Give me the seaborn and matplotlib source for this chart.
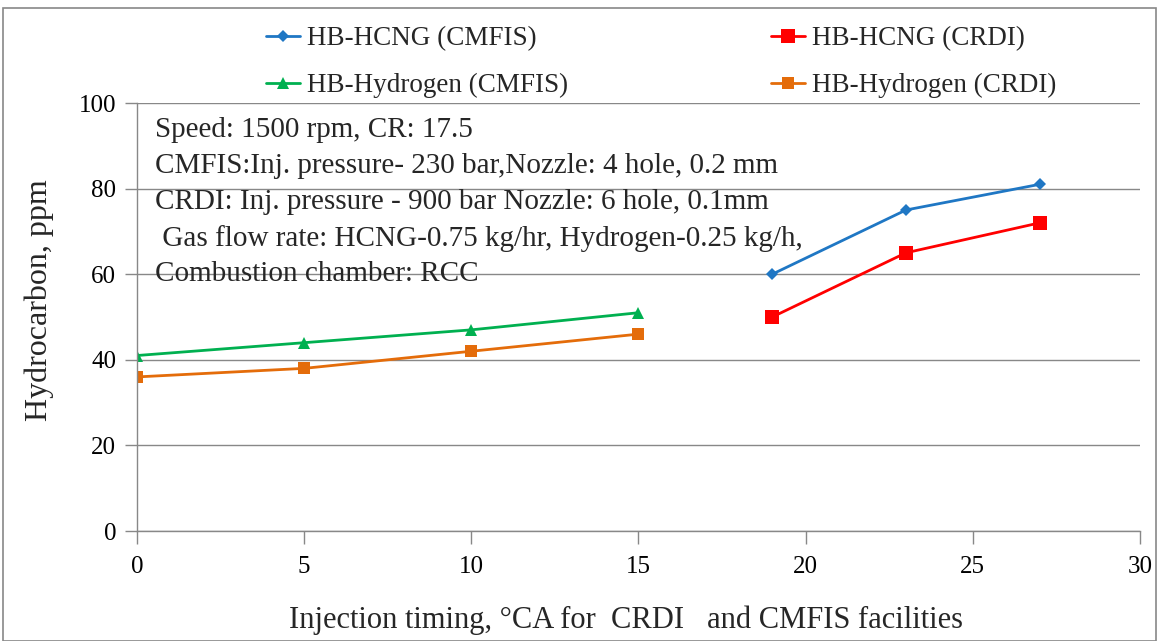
import matplotlib
matplotlib.use("Agg")
import matplotlib.pyplot as plt
import seaborn as sns
import pandas as pd
from matplotlib.patches import Rectangle

# Data
x_cmfis_hcng = [19, 23, 27]
y_cmfis_hcng = [60, 75, 81]
x_crdi_hcng = [19, 23, 27]
y_crdi_hcng = [50, 65, 72]
x_cmfis_h2 = [0, 5, 10, 15]
y_cmfis_h2 = [41, 44, 47, 51]
x_crdi_h2 = [0, 5, 10, 15]
y_crdi_h2 = [36, 38, 42, 46]
series_names = ["HB-HCNG (CMFIS)", "HB-HCNG (CRDI)", "HB-Hydrogen (CMFIS)", "HB-Hydrogen (CRDI)"]
x_ticks = [0, 5, 10, 15, 20, 25, 30]
y_ticks = [0, 20, 40, 60, 80, 100]
note_lines = ["Speed: 1500 rpm, CR: 17.5",
              "CMFIS:Inj. pressure- 230 bar,Nozzle: 4 hole, 0.2 mm",
              "CRDI: Inj. pressure - 900 bar Nozzle: 6 hole, 0.1mm",
              " Gas flow rate: HCNG-0.75 kg/hr, Hydrogen-0.25 kg/h,",
              "Combustion chamber: RCC"]

sns.set_theme(style="white")
plt.rcParams['font.family'] = ['Liberation Serif', 'DejaVu Serif']

df = pd.concat([
    pd.DataFrame({"x": x_cmfis_hcng, "y": y_cmfis_hcng, "s": series_names[0]}),
    pd.DataFrame({"x": x_crdi_hcng, "y": y_crdi_hcng, "s": series_names[1]}),
    pd.DataFrame({"x": x_cmfis_h2, "y": y_cmfis_h2, "s": series_names[2]}),
    pd.DataFrame({"x": x_crdi_h2, "y": y_crdi_h2, "s": series_names[3]}),
])

colors = {series_names[0]: "#1f77c4", series_names[1]: "#ff0000",
          series_names[2]: "#00b050", series_names[3]: "#e46c0a"}
markers = {series_names[0]: "D", series_names[1]: "s",
           series_names[2]: "^", series_names[3]: "s"}
msizes = {series_names[0]: 6, series_names[1]: 10, series_names[2]: 9, series_names[3]: 9}

fig = plt.figure(figsize=(11.57, 6.41), dpi=100)
ax = fig.add_axes([0.1184, 0.1716, 0.8669, 0.6677])

for name in series_names:
    sub = df[df["s"] == name]
    sns.lineplot(data=sub, x="x", y="y", ax=ax, color=colors[name], marker=markers[name],
                 markersize=msizes[name], markeredgewidth=0, linewidth=2, label=name)

ax.set_xlim(0, 30)
ax.set_ylim(0, 100)
ax.set_xticks(x_ticks)
ax.set_yticks(y_ticks)
ax.tick_params(axis="both", labelsize=18, colors="#888888", length=9, width=1, direction="out",
               left=True, bottom=True, labelcolor="black")
ax.tick_params(axis="x", pad=9)
ax.tick_params(axis="y", pad=6)
ax.grid(axis="y", color="#888888", linewidth=1)
ax.grid(axis="x", visible=False)
for sp in ["top", "right"]:
    ax.spines[sp].set_visible(False)
for sp in ["left", "bottom"]:
    ax.spines[sp].set_color("#888888")
    ax.spines[sp].set_linewidth(1)

ax.set_xlabel("Injection timing, \u00b0CA for  CRDI   and CMFIS facilities", fontsize=22)
ax.set_ylabel("Hydrocarbon, ppm", fontsize=23)
ax.xaxis.set_label_coords(0.4875, -0.175)
ax.yaxis.set_label_coords(-0.083, 0.54)

y0 = 0.968
for i, line in enumerate(note_lines):
    ax.text(0.018, y0 - i * 0.084, line, transform=ax.transAxes, fontsize=21, va="top", ha="left")

handles, labels = ax.get_legend_handles_labels()
order = [0, 2, 1, 3]
leg = fig.legend([handles[i] for i in order], [labels[i] for i in order], ncol=2,
                 loc="upper left", bbox_to_anchor=(0.209, 0.997), frameon=False,
                 fontsize=19.5, handlelength=1.25, handletextpad=0.25, columnspacing=7.5,
                 labelspacing=0.8)
if ax.get_legend():
    ax.get_legend().remove()

fig.patches.append(Rectangle((0.003, 0.0), 0.996, 0.987, transform=fig.transFigure,
                             fill=False, edgecolor="#888888", linewidth=1.2))

fig.savefig("out.png", dpi=100)
